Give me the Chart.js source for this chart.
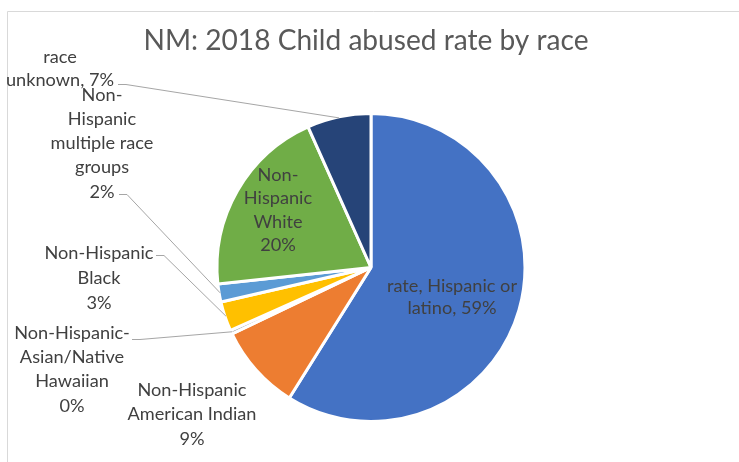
<!DOCTYPE html>
<html><head><meta charset="utf-8">
<script src="https://cdn.jsdelivr.net/npm/chart.js@4/dist/chart.umd.min.js"></script>
<style>html,body{margin:0;padding:0;background:#fff}canvas{display:block}</style>
</head><body>
<canvas id="c" width="739" height="462"></canvas>
<script>
const chartTitle = 'NM: 2018 Child abused rate by race';
const categories = [
  'rate, Hispanic or latino',
  'Non-Hispanic American Indian',
  'Non-Hispanic-Asian/Native Hawaiian',
  'Non-Hispanic Black',
  'Non-Hispanic multiple race groups',
  'Non-Hispanic White',
  'race unknown'
];
const values = [58.9, 9.0, 0.4, 3.1, 1.9, 20.0, 6.7];
const labelLines = [
  ['rate, Hispanic or', 'latino, 59%'],
  ['Non-Hispanic', 'American Indian', '9%'],
  ['Non-Hispanic-', 'Asian/Native', 'Hawaiian', '0%'],
  ['Non-Hispanic', 'Black', '3%'],
  ['Non-', 'Hispanic', 'multiple race', 'groups', '2%'],
  ['Non-', 'Hispanic', 'White', '20%'],
  ['race', 'unknown, 7%']
];
const colors = ['#4472C4', '#ED7D31', '#A5A5A5', '#FFC000', '#5B9BD5', '#70AD47', '#264478'];

// label placement (style / layout only)
const labelLayout = [
  {x: 452, y: 286, lh: 22},
  {x: 192, y: 390, lh: 24.5},
  {x: 72,  y: 333, lh: 24.3, leader: [132, 339]},
  {x: 99,  y: 253, lh: 25,   leader: [156, 255]},
  {x: 102, y: 95,  lh: 24.2, leader: [119, 194]},
  {x: 278, y: 175, lh: 23.5},
  {x: 60,  y: 57,  lh: 23,   leader: [118, 84]}
];

const FAMILY = 'Lato, "Open Sans", sans-serif';
function fitSize(text, target) {
  const ctx = document.createElement('canvas').getContext('2d');
  ctx.font = '100px ' + FAMILY;
  return 100 * target / ctx.measureText(text).width;
}
const titleSize = fitSize(chartTitle, 445);
const labelSize = fitSize('American Indian', 129);

const decor = {
  id: 'decor',
  beforeDraw(chart) {
    const ctx = chart.ctx;
    ctx.save();
    ctx.fillStyle = '#ffffff';
    ctx.fillRect(0, 0, chart.width, chart.height);
    ctx.strokeStyle = '#d9d9d9';
    ctx.lineWidth = 1;
    ctx.beginPath();
    ctx.moveTo(7.5, chart.height);
    ctx.lineTo(7.5, 11.5);
    ctx.lineTo(chart.width, 11.5);
    ctx.stroke();
    ctx.restore();
  },
  afterDraw(chart) {
    const ctx = chart.ctx;
    const meta = chart.getDatasetMeta(0);
    ctx.save();
    // title
    ctx.fillStyle = '#595959';
    ctx.font = titleSize.toFixed(2) + 'px ' + FAMILY;
    ctx.textAlign = 'center';
    ctx.textBaseline = 'middle';
    ctx.fillText(chartTitle, 366, 41);
    // leader lines
    ctx.strokeStyle = '#a6a6a6';
    ctx.lineWidth = 1;
    meta.data.forEach((arc, i) => {
      const L = labelLayout[i];
      if (!L.leader) return;
      const p = arc.getProps(['x', 'y', 'startAngle', 'endAngle', 'outerRadius'], true);
      const mid = (p.startAngle + p.endAngle) / 2;
      const ex = p.x + Math.cos(mid) * (p.outerRadius - 1);
      const ey = p.y + Math.sin(mid) * (p.outerRadius - 1);
      ctx.beginPath();
      ctx.moveTo(L.leader[0], L.leader[1] + 0.5);
      ctx.lineTo(L.leader[0] + 8, L.leader[1] + 0.5);
      ctx.lineTo(ex, ey);
      ctx.stroke();
    });
    // labels
    ctx.fillStyle = '#404040';
    ctx.font = labelSize.toFixed(2) + 'px ' + FAMILY;
    labelLines.forEach((lines, i) => {
      const L = labelLayout[i];
      lines.forEach((t, k) => ctx.fillText(t, L.x, L.y + k * L.lh));
    });
    ctx.restore();
  }
};

new Chart(document.getElementById('c'), {
  type: 'pie',
  data: {
    labels: categories,
    datasets: [{
      data: values,
      backgroundColor: colors,
      borderColor: '#ffffff',
      borderWidth: 3,
      hoverOffset: 0
    }]
  },
  options: {
    responsive: false,
    animation: false,
    devicePixelRatio: 1,
    layout: {padding: {top: 112, bottom: 39, left: 100, right: 97}},
    plugins: {legend: {display: false}, tooltip: {enabled: false}, title: {display: false}}
  },
  plugins: [decor]
});
</script>
</body></html>
